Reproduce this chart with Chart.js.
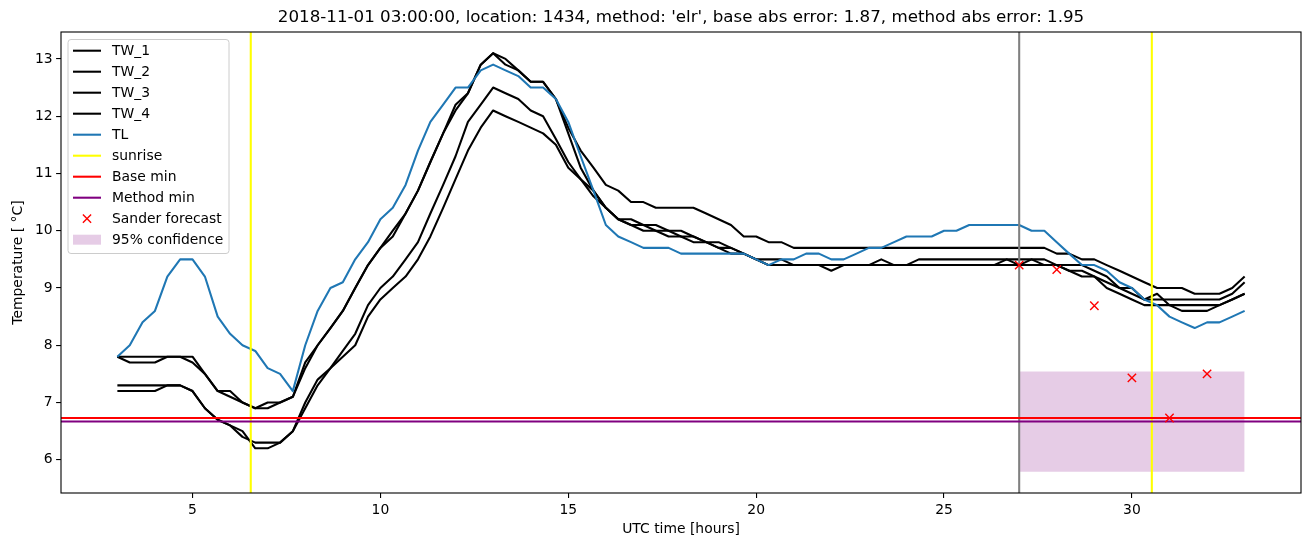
<!DOCTYPE html>
<html><head><meta charset="utf-8">
<script src="https://cdn.jsdelivr.net/npm/chart.js@4.4.1/dist/chart.umd.min.js"></script>
<style>html,body{margin:0;padding:0;background:#fff}canvas{display:block}</style>
</head><body>
<canvas id="c" width="1311" height="547"></canvas>
<script>
// ---------------- data ----------------
const hours = [
 3, 3.33, 3.67, 4, 4.33, 4.67, 5, 5.33, 5.67, 6,
 6.33, 6.67, 7, 7.33, 7.67, 8, 8.33, 8.67, 9, 9.33,
 9.67, 10, 10.33, 10.67, 11, 11.33, 11.67, 12, 12.33, 12.67,
 13, 13.33, 13.67, 14, 14.33, 14.67, 15, 15.33, 15.67, 16,
 16.33, 16.67, 17, 17.33, 17.67, 18, 18.33, 18.67, 19, 19.33,
 19.67, 20, 20.33, 20.67, 21, 21.33, 21.67, 22, 22.33, 22.67,
 23, 23.33, 23.67, 24, 24.33, 24.67, 25, 25.33, 25.67, 26,
 26.33, 26.67, 27, 27.33, 27.67, 28, 28.33, 28.67, 29, 29.33,
 29.67, 30, 30.33, 30.67, 31, 31.33, 31.67, 32, 32.33, 32.67,
 33];
const tw1 = [
 7.8,7.8,7.8,7.8,7.8,7.8,7.8,7.5,7.2,7.1,
 7.0,6.9,7.0,7.0,7.1,7.7,8.0,8.3,8.6,9.0,
 9.4,9.7,9.9,10.3,10.7,11.2,11.7,12.2,12.4,12.9,
 13.1,12.9,12.8,12.6,12.6,12.3,11.8,11.4,11.1,10.8,
 10.7,10.5,10.5,10.4,10.4,10.4,10.4,10.3,10.2,10.1,
 9.9,9.9,9.8,9.8,9.7,9.7,9.7,9.7,9.7,9.7,
 9.7,9.7,9.7,9.7,9.7,9.7,9.7,9.7,9.7,9.7,
 9.7,9.7,9.7,9.7,9.7,9.6,9.6,9.5,9.5,9.4,
 9.3,9.2,9.1,9.0,9.0,9.0,8.9,8.9,8.9,9.0,
 9.2];
const tw2 = [
 7.8,7.7,7.7,7.7,7.8,7.8,7.7,7.5,7.2,7.2,
 7.0,6.9,6.9,7.0,7.1,7.6,8.0,8.3,8.6,9.0,
 9.4,9.7,10.0,10.3,10.7,11.2,11.7,12.1,12.4,12.9,
 13.1,13.0,12.8,12.6,12.6,12.3,11.7,11.1,10.7,10.4,
 10.2,10.2,10.1,10.1,10.0,10.0,9.9,9.8,9.8,9.7,
 9.6,9.5,9.4,9.4,9.4,9.4,9.4,9.3,9.4,9.4,
 9.4,9.4,9.4,9.4,9.5,9.5,9.5,9.5,9.5,9.5,
 9.5,9.5,9.5,9.5,9.5,9.4,9.4,9.4,9.3,9.2,
 9.0,8.9,8.8,8.8,8.8,8.8,8.8,8.8,8.8,8.9,
 9.1];
const tw3 = [
 7.3,7.3,7.3,7.3,7.3,7.3,7.2,6.9,6.7,6.6,
 6.4,6.3,6.3,6.3,6.5,7.0,7.4,7.6,7.9,8.2,
 8.7,9.0,9.2,9.5,9.8,10.3,10.8,11.3,11.9,12.2,
 12.5,12.4,12.3,12.1,12.0,11.6,11.2,10.9,10.7,10.4,
 10.2,10.1,10.1,10.0,10.0,9.9,9.9,9.8,9.7,9.7,
 9.6,9.5,9.5,9.5,9.4,9.4,9.4,9.4,9.4,9.4,
 9.4,9.5,9.4,9.4,9.4,9.4,9.4,9.4,9.4,9.4,
 9.4,9.5,9.4,9.5,9.4,9.4,9.3,9.3,9.2,9.1,
 9.0,9.0,8.8,8.9,8.7,8.7,8.7,8.7,8.7,8.8,
 8.9];
const tw4 = [
 7.2,7.2,7.2,7.2,7.3,7.3,7.2,6.9,6.7,6.6,
 6.5,6.2,6.2,6.3,6.5,6.9,7.3,7.6,7.8,8.0,
 8.5,8.8,9.0,9.2,9.5,9.9,10.4,10.9,11.4,11.8,
 12.1,12.0,11.9,11.8,11.7,11.5,11.1,10.9,10.6,10.4,
 10.2,10.1,10.0,10.0,9.9,9.9,9.8,9.8,9.7,9.6,
 9.6,9.5,9.4,9.4,9.4,9.4,9.4,9.4,9.4,9.4,
 9.4,9.4,9.4,9.4,9.4,9.4,9.4,9.4,9.4,9.4,
 9.4,9.4,9.4,9.4,9.4,9.4,9.3,9.2,9.2,9.0,
 8.9,8.8,8.7,8.7,8.7,8.6,8.6,8.6,8.7,8.8,
 8.9];
const tl = [
 7.8,8.0,8.4,8.6,9.2,9.5,9.5,9.2,8.5,8.2,
 8.0,7.9,7.6,7.5,7.2,8.0,8.6,9.0,9.1,9.5,
 9.8,10.2,10.4,10.8,11.4,11.9,12.2,12.5,12.5,12.8,
 12.9,12.8,12.7,12.5,12.5,12.3,11.9,11.3,10.7,10.1,
 9.9,9.8,9.7,9.7,9.7,9.6,9.6,9.6,9.6,9.6,
 9.6,9.5,9.4,9.5,9.5,9.6,9.6,9.5,9.5,9.6,
 9.7,9.7,9.8,9.9,9.9,9.9,10.0,10.0,10.1,10.1,
 10.1,10.1,10.1,10.0,10.0,9.8,9.6,9.4,9.4,9.3,
 9.1,9.0,8.8,8.7,8.5,8.4,8.3,8.4,8.4,8.5,
 8.6];
const forecastHours = [27, 28, 29, 30, 31, 32];
const forecastValues = [9.4, 9.32, 8.69, 7.43, 6.73, 7.5];
const sunriseHours = [6.55, 30.53];
const nowHour = 27;
const baseMin = 6.73;
const methodMin = 6.67;
const confHours = [27, 33];
const confLow = [5.79, 5.79];
const confHigh = [7.54, 7.54];
const xTicks = [5, 10, 15, 20, 25, 30];
const yTicks = [6, 7, 8, 9, 10, 11, 12, 13];
const xRange = [1.5, 34.5];
const yRange = [5.42, 13.47];
const seriesLabels = ['TW_1', 'TW_2', 'TW_3', 'TW_4', 'TL'];
const titleText = "2018-11-01 03:00:00, location: 1434, method: 'elr', base abs error: 1.87, method abs error: 1.95";

// ---------------- styles ----------------
const FONT = '"DejaVu Sans", "Liberation Sans", sans-serif';
const C_BLUE = '#1f77b4', C_FILL = 'rgba(128,0,128,0.2)';
const LW = 2.08;

const pts = (xs, ys) => xs.map((x, i) => ({x: x, y: ys[i]}));
let ord = 100;
const lineDs = (label, data, color, extra) => Object.assign({
  label, data, borderColor: color, backgroundColor: color, borderWidth: LW,
  pointRadius: 0, pointHoverRadius: 0, tension: 0, fill: false, order: ord--,
  borderCapStyle: 'butt', borderJoinStyle: 'round'
}, extra || {});
const vline = (x, color) => lineDs('', [{x: x, y: yRange[0]}, {x: x, y: yRange[1]}], color);
const hline = (y, color) => lineDs('', [{x: xRange[0], y: y}, {x: xRange[1], y: y}], color);

const datasets = [
  lineDs('conf_hi', pts(confHours, confHigh), 'rgba(0,0,0,0)', {borderWidth: 0, fill: '+1', backgroundColor: C_FILL}),
  lineDs('conf_lo', pts(confHours, confLow), 'rgba(0,0,0,0)', {borderWidth: 0}),
  lineDs(seriesLabels[0], pts(hours, tw1), '#000'),
  lineDs(seriesLabels[1], pts(hours, tw2), '#000'),
  lineDs(seriesLabels[2], pts(hours, tw3), '#000'),
  lineDs(seriesLabels[3], pts(hours, tw4), '#000'),
  lineDs(seriesLabels[4], pts(hours, tl), C_BLUE),
  vline(nowHour, '#808080'),
  ...sunriseHours.map(h => vline(h, '#ffff00')),
  hline(baseMin, '#ff0000'),
  hline(methodMin, '#800080'),
  lineDs('Sander forecast', pts(forecastHours, forecastValues), '#ff0000', {
    showLine: false, pointStyle: 'crossRot', pointRadius: 5.9, pointHoverRadius: 5.9,
    pointBorderWidth: 1.4, pointBorderColor: '#ff0000', borderWidth: 1.4
  })
];

const legendEntries = [
  {label: seriesLabels[0], kind: 'line', color: '#000'},
  {label: seriesLabels[1], kind: 'line', color: '#000'},
  {label: seriesLabels[2], kind: 'line', color: '#000'},
  {label: seriesLabels[3], kind: 'line', color: '#000'},
  {label: seriesLabels[4], kind: 'line', color: C_BLUE},
  {label: 'sunrise', kind: 'line', color: '#ffff00'},
  {label: 'Base min', kind: 'line', color: '#ff0000'},
  {label: 'Method min', kind: 'line', color: '#800080'},
  {label: 'Sander forecast', kind: 'x', color: '#ff0000'},
  {label: '95% confidence', kind: 'patch', color: C_FILL}
];

const framePlugin = {
  id: 'frame',
  afterDraw(chart) {
    const ctx = chart.ctx, a = chart.chartArea;
    ctx.save();
    // spines
    ctx.strokeStyle = '#000'; ctx.lineWidth = 1.1;
    ctx.strokeRect(a.left, a.top, a.right - a.left, a.bottom - a.top);
    // title
    ctx.fillStyle = '#000';
    ctx.font = '16.7px ' + FONT;
    ctx.textAlign = 'center'; ctx.textBaseline = 'middle';
    ctx.fillText(titleText, (a.left + a.right) / 2, 18);
    // legend
    const x0 = a.left + 7, y0 = a.top + 7.5, w = 161, h = 214;
    ctx.beginPath();
    const r = 3;
    ctx.moveTo(x0 + r, y0); ctx.lineTo(x0 + w - r, y0); ctx.arcTo(x0 + w, y0, x0 + w, y0 + r, r);
    ctx.lineTo(x0 + w, y0 + h - r); ctx.arcTo(x0 + w, y0 + h, x0 + w - r, y0 + h, r);
    ctx.lineTo(x0 + r, y0 + h); ctx.arcTo(x0, y0 + h, x0, y0 + h - r, r);
    ctx.lineTo(x0, y0 + r); ctx.arcTo(x0, y0, x0 + r, y0, r); ctx.closePath();
    ctx.fillStyle = 'rgba(255,255,255,0.8)'; ctx.fill();
    ctx.strokeStyle = '#cccccc'; ctx.lineWidth = 1; ctx.stroke();
    ctx.font = '13.9px ' + FONT; ctx.textAlign = 'left'; ctx.textBaseline = 'middle';
    legendEntries.forEach((e, i) => {
      const cy = y0 + 11.2 + i * 21;
      const hx0 = x0 + 5, hx1 = x0 + 33, hc = (hx0 + hx1) / 2;
      if (e.kind === 'line') {
        ctx.strokeStyle = e.color; ctx.lineWidth = LW;
        ctx.beginPath(); ctx.moveTo(hx0, cy); ctx.lineTo(hx1, cy); ctx.stroke();
      } else if (e.kind === 'x') {
        ctx.strokeStyle = e.color; ctx.lineWidth = 1.4;
        const d = 4.1;
        ctx.beginPath(); ctx.moveTo(hc - d, cy - d); ctx.lineTo(hc + d, cy + d);
        ctx.moveTo(hc - d, cy + d); ctx.lineTo(hc + d, cy - d); ctx.stroke();
      } else {
        ctx.fillStyle = e.color; ctx.fillRect(hx0, cy - 5, hx1 - hx0, 10);
      }
      ctx.fillStyle = '#000';
      ctx.fillText(e.label, x0 + 44, cy + 0.5);
    });
    ctx.restore();
  }
};

const tickFont = {family: FONT, size: 13.9};
new Chart(document.getElementById('c'), {
  type: 'line',
  data: {datasets},
  options: {
    responsive: false, animation: false, devicePixelRatio: 1,
    events: [],
    layout: {padding: {top: 32, right: 10, left: 0, bottom: 0}},
    plugins: {legend: {display: false}, tooltip: {enabled: false}, title: {display: false}},
    scales: {
      x: {
        type: 'linear', min: xRange[0], max: xRange[1],
        afterBuildTicks: s => { s.ticks = xTicks.map(v => ({value: v})); },
        afterFit: s => { s.height = 54; },
        ticks: {font: tickFont, color: '#000', padding: 4.5, maxRotation: 0, autoSkip: false},
        grid: {display: true, drawOnChartArea: false, drawTicks: true, tickLength: 4.9, color: '#000', lineWidth: 1.1},
        border: {display: false},
        title: {display: true, text: 'UTC time [hours]', font: {family: FONT, size: 13.9}, color: '#000', padding: {top: 0, bottom: 9.6}}
      },
      y: {
        type: 'linear', min: yRange[0], max: yRange[1],
        afterBuildTicks: s => { s.ticks = yTicks.map(v => ({value: v})); },
        afterFit: s => { s.width = 61; },
        ticks: {font: tickFont, color: '#000', padding: 3.5, autoSkip: false},
        grid: {display: true, drawOnChartArea: false, drawTicks: true, tickLength: 4.9, color: '#000', lineWidth: 1.1},
        border: {display: false},
        title: {display: true, text: 'Temperature [ °C]', font: {family: FONT, size: 13.9}, color: '#000', padding: {top: 9.6, bottom: 0}}
      }
    }
  },
  plugins: [framePlugin]
});
</script>
</body></html>
